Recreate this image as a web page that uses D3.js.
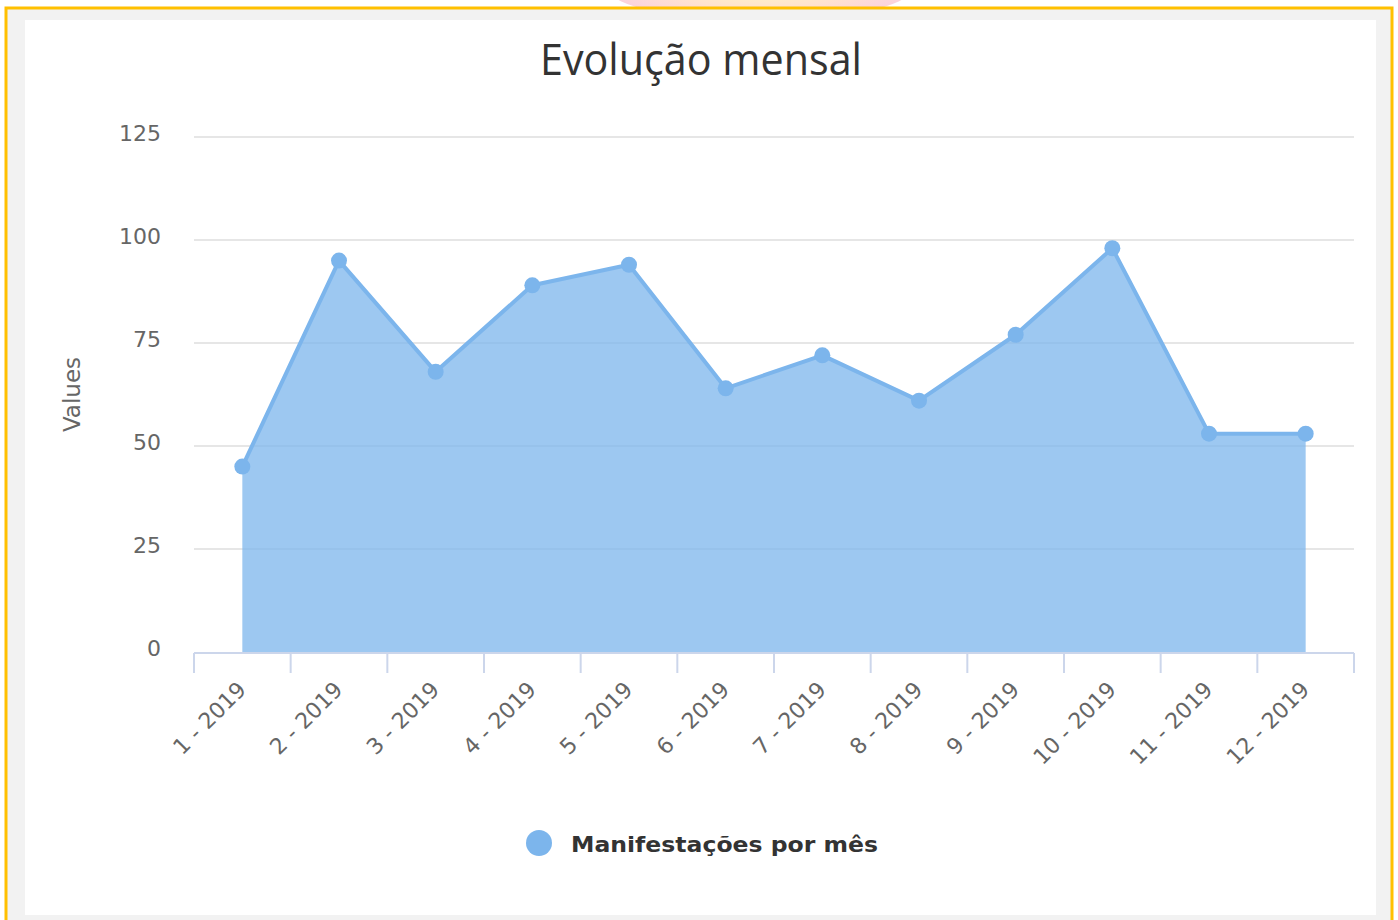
<!DOCTYPE html>
<html>
<head>
<meta charset="utf-8">
<script src="https://cdn.jsdelivr.net/npm/d3@7"></script>
<style>
  body { margin: 0; background: #fff; }
  svg { display: block; }
</style>
</head>
<body>
<svg id="chart" width="1398" height="920"></svg>
<script>
var months = ["1 - 2019", "2 - 2019", "3 - 2019", "4 - 2019", "5 - 2019", "6 - 2019",
              "7 - 2019", "8 - 2019", "9 - 2019", "10 - 2019", "11 - 2019", "12 - 2019"];
var values = [45, 95, 68, 89, 94, 64, 72, 61, 77, 98, 53, 53];
var yTicks = [0, 25, 50, 75, 100, 125];
var seriesName = "Manifestações por mês";
var titleText = "Evolução mensal";
var yTitle = "Values";

var svg = d3.select("#chart");

// page frame: logo blob, yellow border, grey card, white panel
var defs = svg.append("defs");
var grad = defs.append("radialGradient").attr("id", "blob");
grad.append("stop").attr("offset", "0%").attr("stop-color", "#fff7c2");
grad.append("stop").attr("offset", "60%").attr("stop-color", "#ffe2cf");
grad.append("stop").attr("offset", "100%").attr("stop-color", "#fbd3dc");
svg.append("ellipse")
    .attr("cx", 760).attr("cy", -10).attr("rx", 150).attr("ry", 30)
    .attr("fill", "url(#blob)");
svg.append("rect").attr("x", 6).attr("y", 8).attr("width", 1386).attr("height", 920)
    .attr("fill", "#f2f2f2").attr("stroke", "#ffc000").attr("stroke-width", 3);
svg.append("rect").attr("x", 25).attr("y", 20).attr("width", 1351).attr("height", 895)
    .attr("fill", "#fff");

var x = d3.scaleBand().domain(months).range([194, 1354]);
var y = d3.scaleLinear().domain([0, 125]).range([652, 137]);
var cx = function(d) { return x(d) + x.bandwidth() / 2; };

// grid
svg.append("g").selectAll("line")
    .data(yTicks.filter(function(t) { return t > 0; }))
    .enter().append("line")
    .attr("x1", 194).attr("x2", 1354)
    .attr("y1", function(d) { return y(d); })
    .attr("y2", function(d) { return y(d); })
    .attr("stroke", "#e6e6e6").attr("stroke-width", 2);

// y labels
var yAxis = svg.append("g")
    .attr("transform", "translate(161,-4)")
    .call(d3.axisLeft(y).tickValues(yTicks).tickSize(0).tickPadding(0));
yAxis.select(".domain").remove();
yAxis.selectAll("text")
    .attr("fill", "#666").style("font-family", "DejaVu Sans").style("font-size", "22px");

svg.append("text")
    .attr("transform", "translate(80," + ((y(0) + y(125)) / 2) + ") rotate(-90)")
    .attr("text-anchor", "middle")
    .attr("fill", "#666")
    .style("font-family", "DejaVu Sans").style("font-size", "23px")
    .text(yTitle);

// area + line + markers
var pts = months.map(function(m, i) { return { m: m, v: values[i] }; });

var area = d3.area()
    .x(function(d) { return cx(d.m); })
    .y0(y(0))
    .y1(function(d) { return y(d.v); });
svg.append("path").datum(pts)
    .attr("d", area)
    .attr("fill", "#7cb5ec").attr("fill-opacity", 0.75);

var line = d3.line()
    .x(function(d) { return cx(d.m); })
    .y(function(d) { return y(d.v); });
svg.append("path").datum(pts)
    .attr("d", line)
    .attr("fill", "none").attr("stroke", "#7cb5ec").attr("stroke-width", 4)
    .attr("stroke-linejoin", "round");

svg.append("g").selectAll("circle")
    .data(pts).enter().append("circle")
    .attr("cx", function(d) { return cx(d.m); })
    .attr("cy", function(d) { return y(d.v); })
    .attr("r", 8)
    .attr("fill", "#7cb5ec");

// x axis line and ticks between categories
svg.append("line")
    .attr("x1", 194).attr("x2", 1354).attr("y1", 653).attr("y2", 653)
    .attr("stroke", "#ccd6eb").attr("stroke-width", 2);
var bounds = months.map(function(m) { return x(m); }).concat([x.range()[1]]);
svg.append("g").selectAll("line")
    .data(bounds).enter().append("line")
    .attr("x1", function(d) { return d; }).attr("x2", function(d) { return d; })
    .attr("y1", 653).attr("y2", 673)
    .attr("stroke", "#ccd6eb").attr("stroke-width", 2);

svg.append("g").selectAll("text")
    .data(months).enter().append("text")
    .attr("transform", function(d) { return "translate(" + (cx(d) + 5) + ",691) rotate(-45)"; })
    .attr("text-anchor", "end")
    .attr("fill", "#666")
    .style("font-family", "DejaVu Sans").style("font-size", "22px")
    .text(function(d) { return d; });

// title
svg.append("text")
    .attr("x", 701).attr("y", 75)
    .attr("text-anchor", "middle")
    .attr("fill", "#333")
    .attr("textLength", 322).attr("lengthAdjust", "spacingAndGlyphs")
    .style("font-family", "Open Sans").style("font-size", "44px")
    .text(titleText);

// legend
svg.append("circle").attr("cx", 539).attr("cy", 843).attr("r", 13).attr("fill", "#7cb5ec");
svg.append("text")
    .attr("x", 571).attr("y", 852)
    .attr("fill", "#333")
    .attr("textLength", 307).attr("lengthAdjust", "spacingAndGlyphs")
    .style("font-family", "DejaVu Sans").style("font-weight", "bold").style("font-size", "22px")
    .text(seriesName);
</script>
</body>
</html>
